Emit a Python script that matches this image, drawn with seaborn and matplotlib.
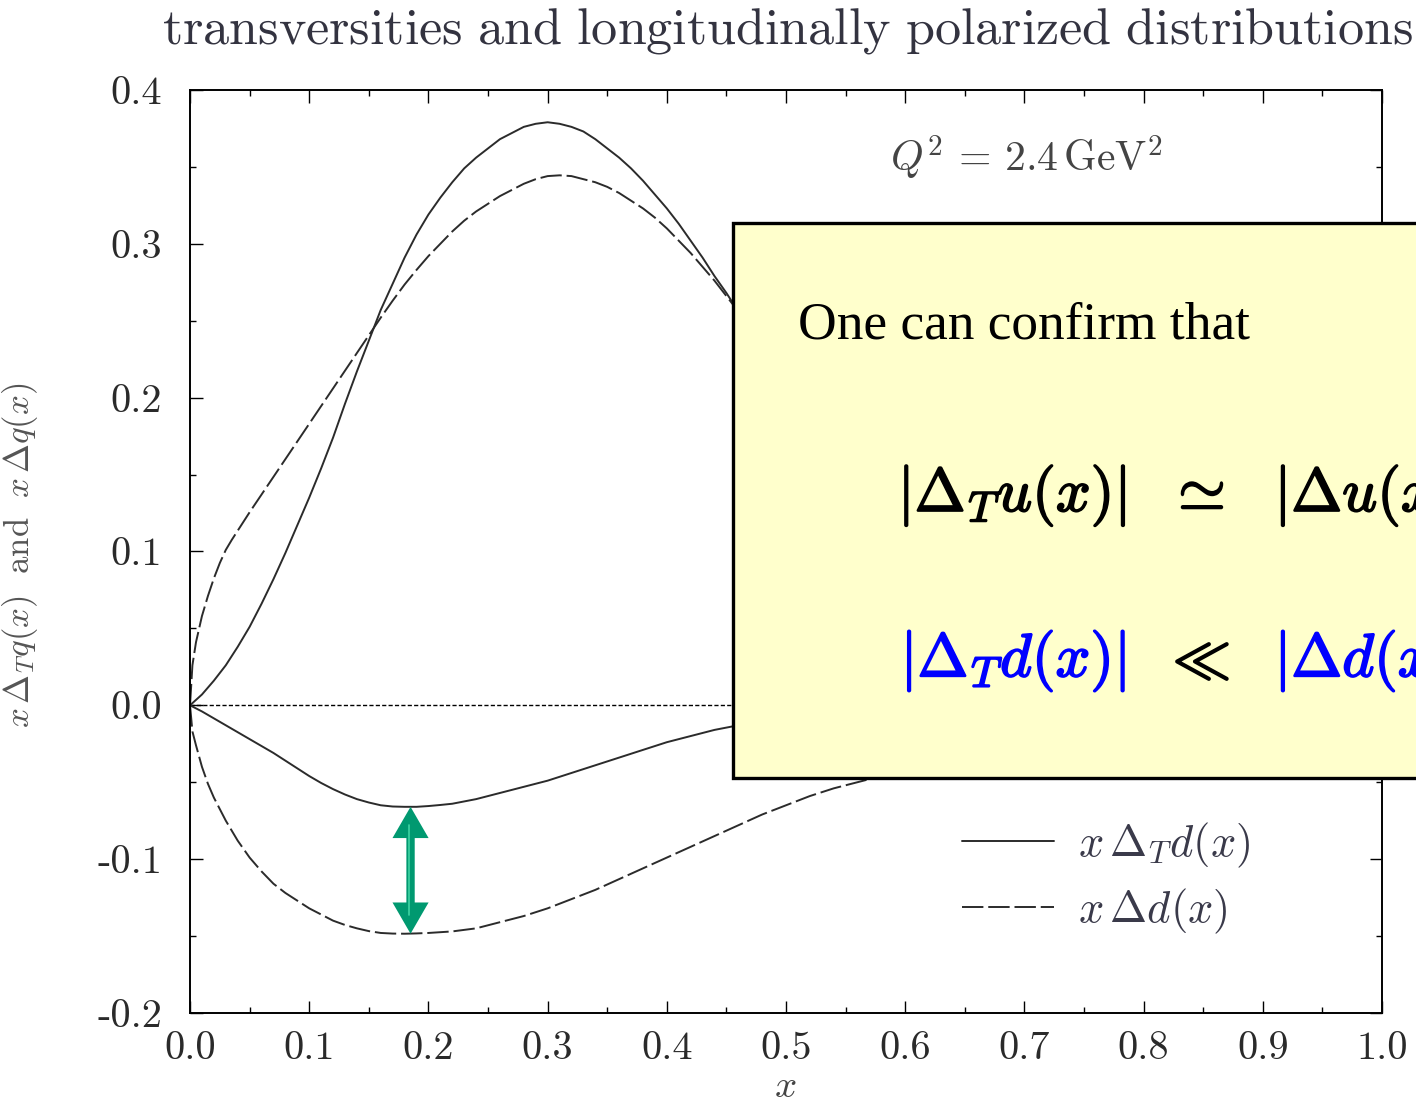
import numpy as np
import pandas as pd
import matplotlib
matplotlib.use("Agg")
import matplotlib.pyplot as plt
import matplotlib.patheffects as pe
from matplotlib.patches import Rectangle
from matplotlib.ticker import MultipleLocator
import seaborn as sns

# ---- curve data (Q^2 = 2.4 GeV^2) ----
x_u = [0.00, 0.01, 0.02, 0.03, 0.04, 0.05, 0.06, 0.07, 0.08, 0.09, 0.10, 0.11, 0.12,
       0.13, 0.14, 0.15, 0.16, 0.17, 0.18, 0.19, 0.20, 0.21, 0.22, 0.23, 0.24, 0.25,
       0.26, 0.27, 0.28, 0.29, 0.30, 0.31, 0.32, 0.33, 0.34, 0.35, 0.36, 0.37, 0.38,
       0.39, 0.40, 0.41, 0.42, 0.43, 0.44, 0.45, 0.46]
xDTu = [0.000, 0.007, 0.016, 0.026, 0.038, 0.051, 0.066, 0.082, 0.099, 0.117, 0.135,
        0.154, 0.174, 0.196, 0.217, 0.237, 0.257, 0.274, 0.291, 0.306, 0.319, 0.330,
        0.340, 0.349, 0.356, 0.362, 0.368, 0.372, 0.376, 0.378, 0.379, 0.378, 0.376,
        0.373, 0.368, 0.362, 0.356, 0.349, 0.341, 0.332, 0.323, 0.313, 0.302, 0.291,
        0.279, 0.268, 0.256]

x_du = [0.000, 0.002, 0.005, 0.01, 0.015, 0.02, 0.025, 0.03, 0.035, 0.04, 0.05, 0.06,
        0.07, 0.08, 0.09, 0.10, 0.11, 0.12, 0.13, 0.14, 0.15, 0.16, 0.17, 0.18, 0.19,
        0.20, 0.21, 0.22, 0.23, 0.24, 0.25, 0.26, 0.27, 0.28, 0.29, 0.30, 0.31, 0.32,
        0.33, 0.34, 0.35, 0.36, 0.37, 0.38, 0.39, 0.40, 0.41, 0.42, 0.43, 0.44, 0.45, 0.46]
xDu = [0.000, 0.026, 0.041, 0.058, 0.071, 0.0825, 0.0925, 0.101, 0.1075, 0.1135, 0.1255,
       0.137, 0.1485, 0.160, 0.1715, 0.183, 0.1945, 0.206, 0.2175, 0.229, 0.2405, 0.252,
       0.263, 0.2735, 0.283, 0.292, 0.300, 0.308, 0.315, 0.321, 0.326, 0.331, 0.335,
       0.339, 0.342, 0.344, 0.3445, 0.344, 0.342, 0.340, 0.337, 0.333, 0.328, 0.323,
       0.317, 0.310, 0.302, 0.294, 0.285, 0.276, 0.266, 0.256]

x_td = [0.00, 0.01, 0.02, 0.03, 0.04, 0.05, 0.06, 0.07, 0.08, 0.09, 0.10, 0.11, 0.12,
        0.13, 0.14, 0.15, 0.16, 0.17, 0.18, 0.19, 0.20, 0.21, 0.22, 0.24, 0.26, 0.28,
        0.30, 0.32, 0.34, 0.36, 0.38, 0.40, 0.42, 0.44, 0.46, 0.48]
xDTd = [0.000, -0.004, -0.0085, -0.013, -0.0175, -0.022, -0.0265, -0.031, -0.036,
        -0.041, -0.046, -0.0505, -0.0545, -0.058, -0.061, -0.0632, -0.065, -0.0658,
        -0.066, -0.066, -0.0655, -0.0648, -0.064, -0.061, -0.057, -0.053, -0.049,
        -0.044, -0.039, -0.034, -0.029, -0.024, -0.020, -0.016, -0.013, -0.011]

x_d = [0.000, 0.002, 0.005, 0.01, 0.015, 0.02, 0.03, 0.04, 0.05, 0.06, 0.07, 0.08, 0.09,
       0.10, 0.11, 0.12, 0.13, 0.14, 0.15, 0.16, 0.17, 0.18, 0.19, 0.20, 0.21, 0.22,
       0.23, 0.24, 0.26, 0.28, 0.30, 0.32, 0.34, 0.36, 0.38, 0.40, 0.42, 0.44, 0.46,
       0.48, 0.50, 0.52, 0.54, 0.56, 0.58, 0.60, 0.62]
xDd = [0.000, -0.017, -0.026, -0.040, -0.051, -0.060, -0.075, -0.088, -0.099, -0.108,
       -0.116, -0.122, -0.127, -0.132, -0.136, -0.140, -0.1428, -0.145, -0.1468, -0.148,
       -0.1484, -0.1485, -0.1483, -0.148, -0.1475, -0.147, -0.146, -0.145, -0.141,
       -0.137, -0.132, -0.126, -0.120, -0.113, -0.106, -0.099, -0.092, -0.085, -0.078,
       -0.071, -0.065, -0.059, -0.054, -0.050, -0.046, -0.042, -0.038]

x_ticks = [0.0, 0.1, 0.2, 0.3, 0.4, 0.5, 0.6, 0.7, 0.8, 0.9, 1.0]
x_ticklabels = ["0.0", "0.1", "0.2", "0.3", "0.4", "0.5", "0.6", "0.7", "0.8", "0.9", "1.0"]
y_ticks = [-0.2, -0.1, 0.0, 0.1, 0.2, 0.3, 0.4]
y_ticklabels = ["-0.2", "-0.1", "0.0", "0.1", "0.2", "0.3", "0.4"]

arrow_x = 0.185

# ---- style ----
sns.set_theme(style="ticks")
plt.rcParams["font.family"] = ["cmr10", "DejaVu Serif"]
plt.rcParams["mathtext.fontset"] = "cm"
plt.rcParams["axes.unicode_minus"] = False
plt.rcParams["axes.formatter.use_mathtext"] = True

LINE = "#2b2b2b"
TXT = "#2a2a2a"
DASH = (0, (11, 2.5))
lkw = dict(color=LINE, lw=1.4, solid_joinstyle="round", dash_joinstyle="round")

fig = plt.figure(figsize=(14.16, 11.05), dpi=100)
ax = fig.add_axes([0.1342, 0.0833, 0.8418, 0.8353])

sns.lineplot(x=x_u, y=xDTu, ax=ax, **lkw)
sns.lineplot(x=x_du, y=xDu, ax=ax, linestyle=DASH, **lkw)
l_td = sns.lineplot(x=x_td, y=xDTd, ax=ax, **lkw).lines[-1]
l_d = sns.lineplot(x=x_d, y=xDd, ax=ax, linestyle=DASH, **lkw).lines[-1]

ax.axhline(0.0, color="black", lw=1.0, linestyle=(0, (3, 1.6)), zorder=1)

ax.set_xlim(0.0, 1.0)
ax.set_ylim(-0.2, 0.4)
ax.set_xticks(x_ticks)
ax.set_xticklabels(x_ticklabels)
ax.set_yticks(y_ticks)
ax.set_yticklabels(y_ticklabels)
ax.xaxis.set_minor_locator(MultipleLocator(0.05))
ax.yaxis.set_minor_locator(MultipleLocator(0.05))
ax.tick_params(which="both", direction="in", top=True, right=True, colors="black",
               labelcolor=TXT, labelsize=29)
ax.tick_params(which="major", length=9, width=1.0)
ax.tick_params(which="minor", length=4.5, width=1.0)
ax.tick_params(axis="y", pad=20)
ax.tick_params(axis="x", pad=13)
for s in ax.spines.values():
    s.set_linewidth(1.4)
    s.set_color("black")

ax.set_ylabel(r"$x\,\Delta_T q(x)\ \ \mathrm{and}\ \ x\,\Delta q(x)$", fontsize=25, color="#555555")
ax.yaxis.set_label_coords(-0.126, 0.496)
ax.set_xlabel(r"$x$", fontsize=28, color="#444444")
ax.xaxis.set_label_coords(0.499, -0.061)

ax.text(0.587, 0.356, r"$Q^2\,=\,2.4\,\mathrm{GeV}^2$", fontsize=30, color="#444444",
        ha="left", va="center")

leg = ax.legend([l_td, l_d], [r"$x\,\Delta_T d(x)$", r"$x\,\Delta d(x)$"],
                loc="center left", bbox_to_anchor=(0.648, 0.146), frameon=False,
                fontsize=32, handlelength=2.05, handletextpad=0.55, labelspacing=0.38,
                borderpad=0, borderaxespad=0)
for t in leg.get_texts():
    t.set_color("#3a3a4a")

# double-headed arrow between the two d-quark minima
ax.annotate("", xy=(arrow_x, min(xDTd)), xytext=(arrow_x, min(xDd)),
            arrowprops=dict(arrowstyle="<|-|>,head_length=0.45,head_width=0.26",
                            color="#009970", lw=6, shrinkA=0, shrinkB=0,
                            mutation_scale=30, joinstyle="miter", capstyle="butt"))
ax.plot([arrow_x - 0.0012, arrow_x - 0.0012], [min(xDd) + 0.012, min(xDTd) - 0.012],
        color="#3fd3a3", lw=1.2, zorder=4)

fig.text(0.556, 0.972, r"$\mathrm{transversities\ and\ longitudinally\ polarized\ distributions}$",
         fontsize=37.5, color="#333340", ha="center", va="center")

# note box
box = Rectangle((0.5177, 0.2959), 0.6, 0.5023, transform=fig.transFigure,
                facecolor="#FFFFCC", edgecolor="black", lw=2.4, zorder=5, clip_on=False)
fig.add_artist(box)

fig.text(0.5636, 0.694, "One can confirm that", family="Liberation Serif",
         fontsize=38.4, color="black", va="baseline", ha="left", zorder=6)

bold = [pe.withStroke(linewidth=1.3, foreground="black")]
bold_b = [pe.withStroke(linewidth=1.3, foreground="#0000FF")]
y1, y2 = 0.5376, 0.388
fig.text(0.634, y1, r"$|\mathbf{\Delta}_T u(x)|$", fontsize=44, color="black",
         va="baseline", ha="left", zorder=6, path_effects=bold)
fig.text(0.8245, y1, r"$\simeq$", fontsize=44, color="black",
         va="baseline", ha="left", zorder=6, path_effects=bold)
fig.text(0.9000, y1, r"$|\mathbf{\Delta} u(x)|$", fontsize=44, color="black",
         va="baseline", ha="left", zorder=6, path_effects=bold)
fig.text(0.636, y2, r"$|\mathbf{\Delta}_T d(x)|$", fontsize=44, color="#0000FF",
         va="baseline", ha="left", zorder=6, path_effects=bold_b)
fig.text(0.8210, y2, r"$\ll$", fontsize=42, color="black",
         va="baseline", ha="left", zorder=6, path_effects=bold)
fig.text(0.9000, y2, r"$|\mathbf{\Delta} d(x)|$", fontsize=44, color="#0000FF",
         va="baseline", ha="left", zorder=6, path_effects=bold_b)

fig.savefig("out.png", dpi=100)
